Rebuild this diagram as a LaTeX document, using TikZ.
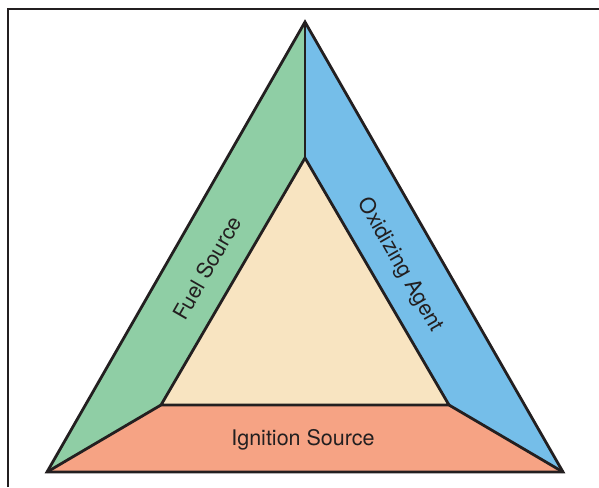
\documentclass[tikz,border=0pt]{standalone}
\usepackage{fontspec}
\setmainfont{TeX Gyre Heros}
\usetikzlibrary{calc}
\definecolor{fuelgreen}{RGB}{143,206,165}
\definecolor{oxblue}{RGB}{117,190,233}
\definecolor{ignsalmon}{RGB}{246,163,132}
\definecolor{heatbeige}{RGB}{248,228,193}
\definecolor{inkline}{RGB}{35,31,32}
\tikzset{every picture/.style={
  line join=miter               % Sharp corners everywhere.
  }
}

\begin{document}
\begin{tikzpicture}[
    x=1pt,y=-1pt,
    side/.style={
      draw=inkline,
      line width=2.8pt
    },
    lbl/.style={
      font=\fontsize{21.5}{25}\selectfont,
      text=inkline,
      inner sep=0pt
    }]

    \useasboundingbox (0,0) rectangle (599,487);

    % Frame, cut off at the right and the bottom.
    \draw[inkline,line width=2.2pt] (8,487) -- (8,9) -- (599,9);

    % Outer and inner corners.
    \coordinate (otop) at (305,22);
    \coordinate (oleft) at (47,472);
    \coordinate (oright) at (563,472);
    \coordinate (itop) at (305,158);
    \coordinate (ileft) at (161,405);
    \coordinate (iright) at (449,405);

    % Fill the three sides and the middle.
    \fill[fuelgreen] (otop) -- (itop) -- (ileft) -- (oleft) -- cycle;
    \fill[oxblue] (otop) -- (oright) -- (iright) -- (itop) -- cycle;
    \fill[ignsalmon] (oleft) -- (ileft) -- (iright) -- (oright) -- cycle;
    \fill[heatbeige] (itop) -- (ileft) -- (iright) -- cycle;

    % Draw the outlines.
    \draw[side] (otop) -- (oleft) -- (oright) -- cycle;
    \draw[side] (itop) -- (ileft) -- (iright) -- cycle;
    \draw[side] (otop) -- (itop);
    \draw[side] (oleft) -- (ileft);
    \draw[side] (oright) -- (iright);

    % Labels.
    \node[lbl,rotate=60.2] (fuel) at (207,268) {Fuel Source};
    \node[lbl,rotate=-60.2] (oxid) at (400,265) {Oxidizing Agent};
    \node[lbl] (ign) at (303,440) {Ignition Source};

  \end{tikzpicture}
\end{document}
